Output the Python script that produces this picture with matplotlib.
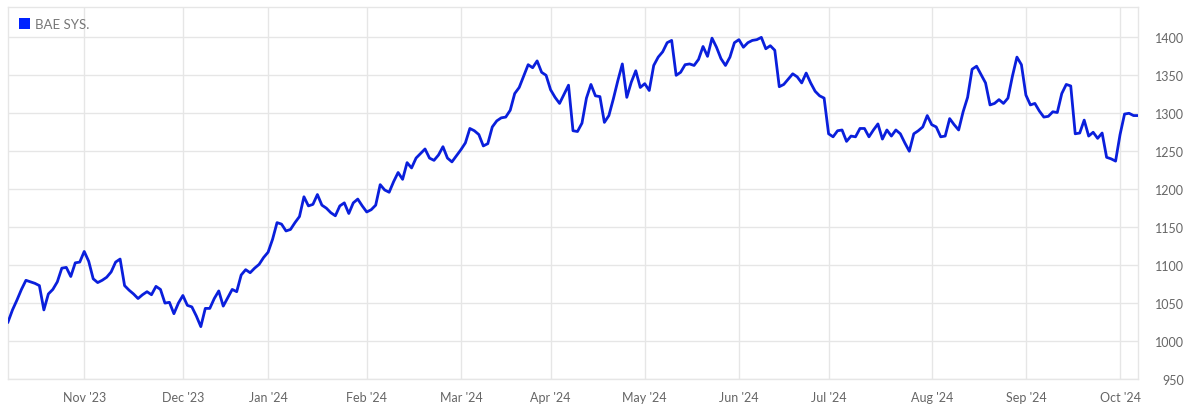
import numpy as np
import pandas as pd
import matplotlib
matplotlib.use("Agg")
import matplotlib.pyplot as plt
from matplotlib.patches import Patch

plt.rcParams['font.family'] = ['Lato', 'DejaVu Sans']

series_name = "BAE SYS."
start_date = "2023-10-09"
end_date = "2024-10-07"
uk_holidays = ["2023-12-25", "2023-12-26", "2024-01-01", "2024-03-29",
               "2024-04-01", "2024-05-06", "2024-05-27", "2024-08-26"]

# daily closing prices (one per trading day)
prices = [
    1025, 1041, 1054, 1068, 1080, 1078, 1076, 1073, 1041, 1062,
    1068, 1078, 1096, 1097, 1085, 1103, 1104, 1118, 1105, 1082,
    1077, 1080, 1084, 1091, 1104, 1108, 1073, 1067, 1062, 1056,
    1061, 1065, 1061, 1072, 1068, 1050, 1051, 1036, 1050, 1060,
    1047, 1045, 1033, 1019, 1043, 1043, 1056, 1066, 1046, 1057,
    1068, 1065, 1087, 1094, 1090, 1096, 1101, 1110, 1117, 1134,
    1156, 1154, 1145, 1147, 1156, 1164, 1190, 1178, 1180, 1193,
    1179, 1175, 1169, 1165, 1178, 1182, 1168, 1182, 1187, 1178,
    1170, 1173, 1179, 1206, 1199, 1196, 1210, 1222, 1213, 1235,
    1228, 1241, 1247, 1253, 1241, 1238, 1245, 1256, 1241, 1236,
    1244, 1252, 1261, 1280, 1277, 1272, 1257, 1260, 1282, 1290,
    1294, 1295, 1304, 1326, 1334, 1349, 1364, 1360, 1369, 1354,
    1350, 1331, 1321, 1313, 1325, 1337, 1277, 1276, 1287, 1320,
    1338, 1323, 1322, 1288, 1297, 1319, 1343, 1365, 1321, 1341,
    1356, 1334, 1339, 1330, 1363, 1374, 1381, 1393, 1396, 1350,
    1354, 1364, 1365, 1363, 1371, 1388, 1375, 1399, 1387, 1372,
    1363, 1374, 1393, 1397, 1387, 1393, 1396, 1397, 1400, 1385,
    1389, 1383, 1335, 1338, 1345, 1352, 1348, 1340, 1353, 1340,
    1329, 1323, 1320, 1273, 1269, 1277, 1278, 1263, 1270, 1269,
    1280, 1280, 1269, 1278, 1286, 1266, 1278, 1270, 1278, 1273,
    1261, 1250, 1273, 1277, 1282, 1297, 1285, 1282, 1269, 1270,
    1293, 1285, 1278, 1302, 1321, 1358, 1362, 1351, 1340, 1311,
    1313, 1318, 1313, 1320, 1349, 1374, 1364, 1324, 1311, 1313,
    1303, 1295, 1296, 1302, 1301, 1326, 1338, 1336, 1273, 1274,
    1291, 1270, 1275, 1267, 1274, 1242, 1240, 1237, 1272, 1299,
    1300, 1297, 1297,
]

y_ticks = [950, 1000, 1050, 1100, 1150, 1200, 1250, 1300, 1350, 1400]

days = pd.bdate_range(start_date, end_date)
days = days[~days.isin(pd.to_datetime(uk_holidays))]
n = min(len(days), len(prices))
days = days[:n]
vals = np.array(prices[:n])
pos = np.arange(n)

# first trading day of each month
month_key = days.to_period("M")
first_idx = [i for i in range(1, n) if month_key[i] != month_key[i - 1]]
month_labels = [days[i].strftime("%b '%y") for i in first_idx]

fig = plt.figure(figsize=(12, 4.14), dpi=100)
ax = fig.add_axes([8 / 1200, 34 / 414, 1130 / 1200, 372 / 414])

grid_c = "#e6e6e6"
for t in y_ticks:
    ax.axhline(t, color=grid_c, lw=1, zorder=0)
for i in first_idx:
    ax.axvline(i, color=grid_c, lw=1, zorder=0)

ax.plot(pos, vals, color="#0a1fdc", lw=2, solid_joinstyle="round", zorder=3)

ax.set_xlim(0, n - 1)
ax.set_ylim(950, 1440)
ax.set_xticks(first_idx)
ax.set_xticklabels(month_labels)
ax.set_yticks(y_ticks)
ax.yaxis.tick_right()
ax.tick_params(axis="both", length=0, colors="#666666", labelsize=9)
ax.tick_params(axis="y", pad=33)
ax.tick_params(axis="x", pad=9)
for lab in ax.get_yticklabels():
    lab.set_horizontalalignment("right")

for s in ax.spines.values():
    s.set_color(grid_c)
    s.set_linewidth(1)

leg = ax.legend(handles=[Patch(facecolor="#0022ff", edgecolor="none", label=series_name)],
                loc="upper left", frameon=False, handlelength=0.9, handleheight=0.9,
                handletextpad=0.35, borderaxespad=0.4, borderpad=0.4, fontsize=9.5,
                bbox_to_anchor=(0.0, 1.0))
for txt in leg.get_texts():
    txt.set_color("#777777")

fig.savefig("out.png", dpi=100)
